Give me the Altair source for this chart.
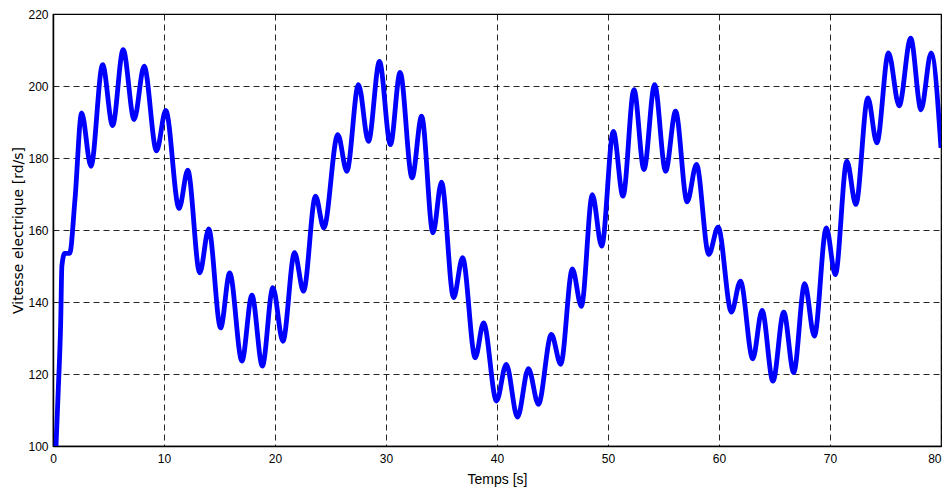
import altair as alt
import pandas as pd

# Time (s) and electrical speed (rd/s) read at the turning points of the curve
temps = [0.27, 0.48, 0.69, 0.8, 1.05, 1.5, 1.98, 2.58, 3.42, 4.47, 5.37, 6.32, 7.31,
         8.21, 9.33, 10.16, 11.36, 12.14, 13.22, 14.03, 15.1, 15.92, 17.02, 17.92,
         18.86, 19.81, 20.71, 21.76, 22.57, 23.65, 24.4, 25.66, 26.47, 27.52, 28.42,
         29.41, 30.4, 31.27, 32.35, 33.21, 34.23, 35.0, 36.09, 36.9, 38.04, 38.79,
         39.96, 40.83, 41.85, 42.83, 43.73, 44.9, 45.74, 46.79, 47.6, 48.59, 49.43,
         50.48, 51.35, 52.34, 53.24, 54.2, 55.19, 56.09, 57.13, 57.97, 59.08, 59.92,
         61.12, 61.93, 63.04, 63.88, 64.86, 65.83, 66.73, 67.72, 68.59, 69.67, 70.48,
         71.52, 72.33, 73.41, 74.22, 75.27, 76.23, 77.27, 78.2, 79.11, 80.0]
vitesse = [100, 116, 134, 150, 153.5, 153.5, 168.5, 192.5, 177.7, 205.9, 189, 210.1,
           190.7, 205.5, 182, 193.2, 166, 176.6, 148.1, 160.3, 132.8, 148.1, 123.6,
           141.9, 122.2, 144, 129.1, 153.7, 143, 169.4, 160.6, 186.5, 176.3, 200.4,
           184.6, 206.8, 183.7, 203.8, 174.5, 191.6, 159.2, 173.3, 141.2, 152.3, 124.5,
           134.2, 112.5, 122.7, 108, 121.5, 111.6, 131, 122.7, 149.2, 138.8, 169.8,
           155.5, 187.4, 169.4, 199, 176.8, 200.4, 176.3, 193, 167.8, 178.2, 153.2,
           160.8, 137.2, 145.8, 124.2, 137.7, 118, 137.2, 120.4, 145.1, 130.5, 160.6,
           147.6, 179.1, 167.1, 196.7, 184.2, 209.2, 194.5, 213.3, 193.4, 209.2, 182.8]

x_ticks = [0, 10, 20, 30, 40, 50, 60, 70, 80]
y_ticks = [100, 120, 140, 160, 180, 200, 220]

df = pd.DataFrame({"t": temps, "v": vitesse})

FONT = "Liberation Sans"

grid_style = dict(
    ticks=False,
    domainColor="#000",
    domainWidth=1.5,
    grid=True,
    gridColor="#000",
    gridDash=[6, 4],
    gridWidth=1,
    gridOpacity=0.85,
    labelFont=FONT,
    labelFontSize=12,
    labelColor="#000",
    titleFontWeight="normal",
    titleColor="#000",
)

chart = (
    alt.Chart(df)
    .mark_line(color="#0000FF", strokeWidth=4.8, interpolate="monotone", clip=True)
    .encode(
        x=alt.X(
            "t:Q",
            scale=alt.Scale(domain=[0, 80], nice=False, zero=False),
            axis=alt.Axis(
                values=x_ticks,
                title="Temps [s]",
                titleFont=FONT,
                titleFontSize=14,
                titlePadding=8,
                labelPadding=7,
                labelAlign={
                    "condition": {"test": "datum.value == 80", "value": "right"},
                    "value": "center",
                },
                **grid_style,
            ),
        ),
        y=alt.Y(
            "v:Q",
            scale=alt.Scale(domain=[100, 220], nice=False, zero=False),
            axis=alt.Axis(
                values=y_ticks,
                title="Vitesse electrique [rd/s]",
                titleFont="DejaVu Sans",
                titleFontSize=14,
                titlePadding=2,
                labelPadding=5,
                **grid_style,
            ),
        ),
    )
    .properties(
        width=888,
        height=432,
        autosize=alt.AutoSizeParams(type="none"),
        padding={"left": 45, "top": 6, "right": 1, "bottom": 42},
        background="white",
    )
    .configure_view(stroke="#000", strokeWidth=1.2)
)

chart.save("out.html", embed_options={"renderer": "svg", "actions": False})
